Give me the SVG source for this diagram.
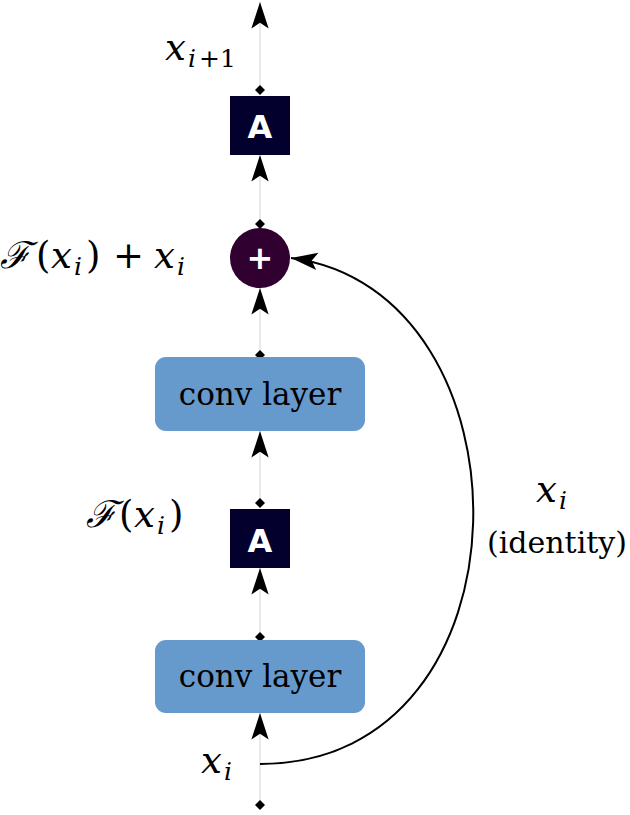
<svg xmlns="http://www.w3.org/2000/svg" width="630" height="815" viewBox="0 0 630 815">
<style>
.rail{stroke:#dcdcdc;stroke-width:1.2;fill:none}
.conv{fill:#6699cc}
.act{fill:#03002e}
.sum{fill:#300030}
.lbl{font-family:"DejaVu Serif",serif;font-size:31px;fill:#000}
.sym{font-family:"DejaVu Sans",sans-serif;font-weight:bold;font-size:32px;fill:#fff}
.math{font-family:"DejaVu Serif",serif;font-size:37px;fill:#000}
.it{font-style:italic}
.sub{font-size:25px}
</style>
<defs>
<marker id="arr" markerUnits="userSpaceOnUse" markerWidth="30" markerHeight="30" refX="0" refY="0" viewBox="-24 -12 26 24" orient="auto" overflow="visible">
<path d="M0,0 L-23,-7.5 L-18,0 L-23,7.5 Z" fill="#000"/>
</marker>
<marker id="dia" markerUnits="userSpaceOnUse" markerWidth="14" markerHeight="14" refX="0" refY="0" viewBox="-7 -7 14 14" orient="auto" overflow="visible">
<path d="M-5,0 L0,-5 L5,0 L0,5 Z" fill="#000"/>
</marker>
</defs>
<g id="connectors">
<line class="rail" x1="260" y1="805" x2="260" y2="713" marker-start="url(#dia)" marker-end="url(#arr)"/>
<line class="rail" x1="260" y1="637" x2="260" y2="568" marker-start="url(#dia)" marker-end="url(#arr)"/>
<line class="rail" x1="260" y1="503" x2="260" y2="431" marker-start="url(#dia)" marker-end="url(#arr)"/>
<line class="rail" x1="260" y1="355" x2="260" y2="288" marker-start="url(#dia)" marker-end="url(#arr)"/>
<line class="rail" x1="260" y1="224" x2="260" y2="155" marker-start="url(#dia)" marker-end="url(#arr)"/>
<line class="rail" x1="260" y1="90" x2="260" y2="2" marker-start="url(#dia)" marker-end="url(#arr)"/>
<path d="M260,764 C540,764 538,290 291,258" fill="none" stroke="#000" stroke-width="2" marker-end="url(#arr)"/>
</g>
<g id="conv2">
<rect class="conv" x="155" y="640" width="210" height="73" rx="11"/>
<text class="lbl" x="260" y="687" text-anchor="middle">conv layer</text>
</g>
<g id="act1">
<rect class="act" x="230" y="509" width="60" height="59"/>
<text class="sym" x="260" y="552" text-anchor="middle">A</text>
</g>
<g id="conv1">
<rect class="conv" x="155" y="357" width="210" height="74" rx="11"/>
<text class="lbl" x="260" y="405" text-anchor="middle">conv layer</text>
</g>
<g id="add">
<circle class="sum" cx="260" cy="258" r="30"/>
<text class="sym" x="260" y="269" text-anchor="middle">+</text>
</g>
<g id="act2">
<rect class="act" x="230" y="96" width="60" height="59"/>
<text class="sym" x="260" y="138" text-anchor="middle">A</text>
</g>
<g id="labels">
<text class="math"><tspan class="it" x="165" y="60">x</tspan><tspan class="sub it" x="188" y="67">i</tspan><tspan class="sub" x="199" y="67">+1</tspan></text>
<text class="math"><tspan class="it" x="0" y="268">ℱ</tspan><tspan x="36" y="268">(</tspan><tspan class="it" x="51" y="268">x</tspan><tspan class="sub it" x="74" y="275">i</tspan><tspan x="86" y="268">)</tspan><tspan x="113" y="268">+</tspan><tspan class="it" x="154" y="268">x</tspan><tspan class="sub it" x="177" y="275">i</tspan></text>
<text class="math"><tspan class="it" x="86" y="527">ℱ</tspan><tspan x="119" y="527">(</tspan><tspan class="it" x="134" y="527">x</tspan><tspan class="sub it" x="157" y="534">i</tspan><tspan x="169" y="527">)</tspan></text>
<text class="math"><tspan class="it" x="201" y="773">x</tspan><tspan class="sub it" x="224" y="780">i</tspan></text>
<text class="math"><tspan class="it" x="536" y="502">x</tspan><tspan class="sub it" x="559" y="509">i</tspan></text>
<text class="lbl" x="557" y="553" text-anchor="middle" style="font-size:30px">(identity)</text>
</g>
</svg>
